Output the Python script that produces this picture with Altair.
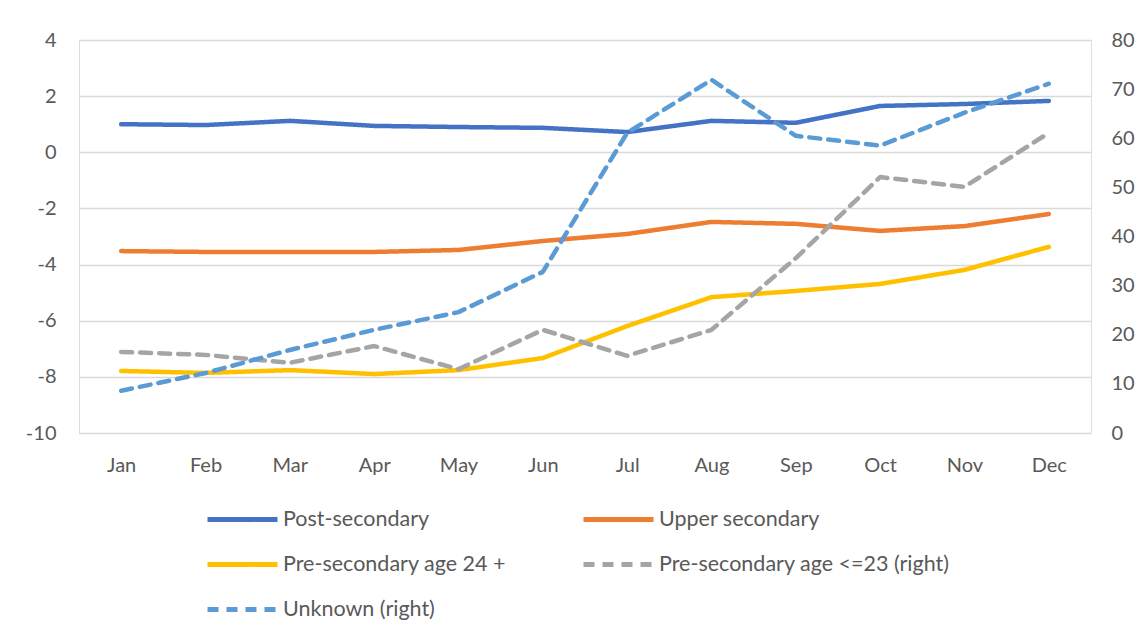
import altair as alt
import pandas as pd

months = ["Jan", "Feb", "Mar", "Apr", "May", "Jun", "Jul", "Aug", "Sep", "Oct", "Nov", "Dec"]

post_secondary = [1.0, 0.97, 1.12, 0.94, 0.90, 0.87, 0.72, 1.12, 1.05, 1.65, 1.72, 1.83]
upper_secondary = [-3.52, -3.55, -3.55, -3.55, -3.48, -3.16, -2.91, -2.48, -2.55, -2.80, -2.63, -2.20]
pre_secondary_24 = [-7.79, -7.86, -7.76, -7.90, -7.76, -7.33, -6.19, -5.16, -4.94, -4.69, -4.19, -3.37]
pre_secondary_23 = [16.5, 15.9, 14.3, 17.7, 13.0, 21.0, 15.7, 21.0, 35.6, 52.1, 50.1, 61.1]
unknown = [8.6, 12.2, 16.9, 21.0, 24.6, 32.8, 61.1, 71.9, 60.5, 58.5, 65.2, 71.1]

series_names = [
    "Post-secondary",
    "Upper secondary",
    "Pre-secondary age 24 +",
    "Pre-secondary age <=23 (right)",
    "Unknown (right)",
]
series_colors = ["#4472C4", "#ED7D31", "#FFC000", "#A5A5A5", "#5B9BD5"]
series_dashes = [[1, 0], [1, 0], [1, 0], [11, 8], [11, 8]]

left_series = {
    "Post-secondary": post_secondary,
    "Upper secondary": upper_secondary,
    "Pre-secondary age 24 +": pre_secondary_24,
}
right_series = {
    "Pre-secondary age <=23 (right)": pre_secondary_23,
    "Unknown (right)": unknown,
}


def long(d):
    rows = []
    for name, vals in d.items():
        for m, v in zip(months, vals):
            rows.append({"month": m, "series": name, "value": v})
    return pd.DataFrame(rows)


left_df = long(left_series)
right_df = long(right_series)

FONT = "Lato"
LABEL_COLOR = "#595959"
MINUS_FIX = "replace(datum.label, '\u2212', '-')"

x_enc = alt.X(
    "month:N",
    sort=months,
    scale=alt.Scale(domain=months, type="point", padding=0.5),
    axis=alt.Axis(
        title=None, domain=False, ticks=False, labelFontSize=20, labelColor=LABEL_COLOR,
        labelFont=FONT, labelPadding=22, labelAngle=0, grid=False,
    ),
)

color_enc = alt.Color(
    "series:N",
    scale=alt.Scale(domain=series_names, range=series_colors),
    sort=series_names,
    legend=alt.Legend(
        title=None, orient="none", legendX=126, legendY=457, columns=2,
        symbolType="stroke", symbolSize=4900, symbolStrokeWidth=5,
        labelFontSize=21.5, labelFont=FONT, labelColor=LABEL_COLOR,
        columnPadding=75, rowPadding=0, clipHeight=45, labelOffset=3, direction="horizontal",
        labelLimit=400,
    ),
)
dash_enc = alt.StrokeDash(
    "series:N",
    scale=alt.Scale(domain=series_names, range=series_dashes),
    sort=series_names,
    legend=None,
)

left = alt.Chart(left_df).mark_line(strokeWidth=4.5, strokeCap="round", strokeJoin="round").encode(
    x=x_enc,
    y=alt.Y(
        "value:Q",
        scale=alt.Scale(domain=[-10, 4], nice=False, zero=False),
        axis=alt.Axis(
            title=None, values=list(range(-10, 5, 2)), domain=False, ticks=False,
            labelFontSize=20, labelFont=FONT, labelColor=LABEL_COLOR, labelPadding=23,
            labelExpr=MINUS_FIX,
            grid=True, gridColor="#D9D9D9", gridWidth=1.3,
        ),
    ),
    color=color_enc,
    strokeDash=dash_enc,
)

right = alt.Chart(right_df).mark_line(strokeWidth=4.5, strokeCap="round", strokeJoin="round").encode(
    x=x_enc,
    y=alt.Y(
        "value:Q",
        scale=alt.Scale(domain=[0, 80], nice=False, zero=False),
        axis=alt.Axis(
            title=None, orient="right", values=list(range(0, 81, 10)), domain=False, ticks=False,
            labelFontSize=20, labelFont=FONT, labelColor=LABEL_COLOR, labelPadding=20,
            grid=False,
        ),
    ),
    color=color_enc,
    strokeDash=dash_enc,
)

chart = (
    alt.layer(left, right)
    .resolve_scale(y="independent")
    .properties(
        width=1012,
        height=393,
        autosize=alt.AutoSizeParams(type="none"),
        padding={"left": 71, "top": 32, "right": 45, "bottom": 195},
    )
    .configure_view(stroke=None)
    .configure(background="white")
)

chart.save("out.html", embed_options={"renderer": "svg", "actions": False})
